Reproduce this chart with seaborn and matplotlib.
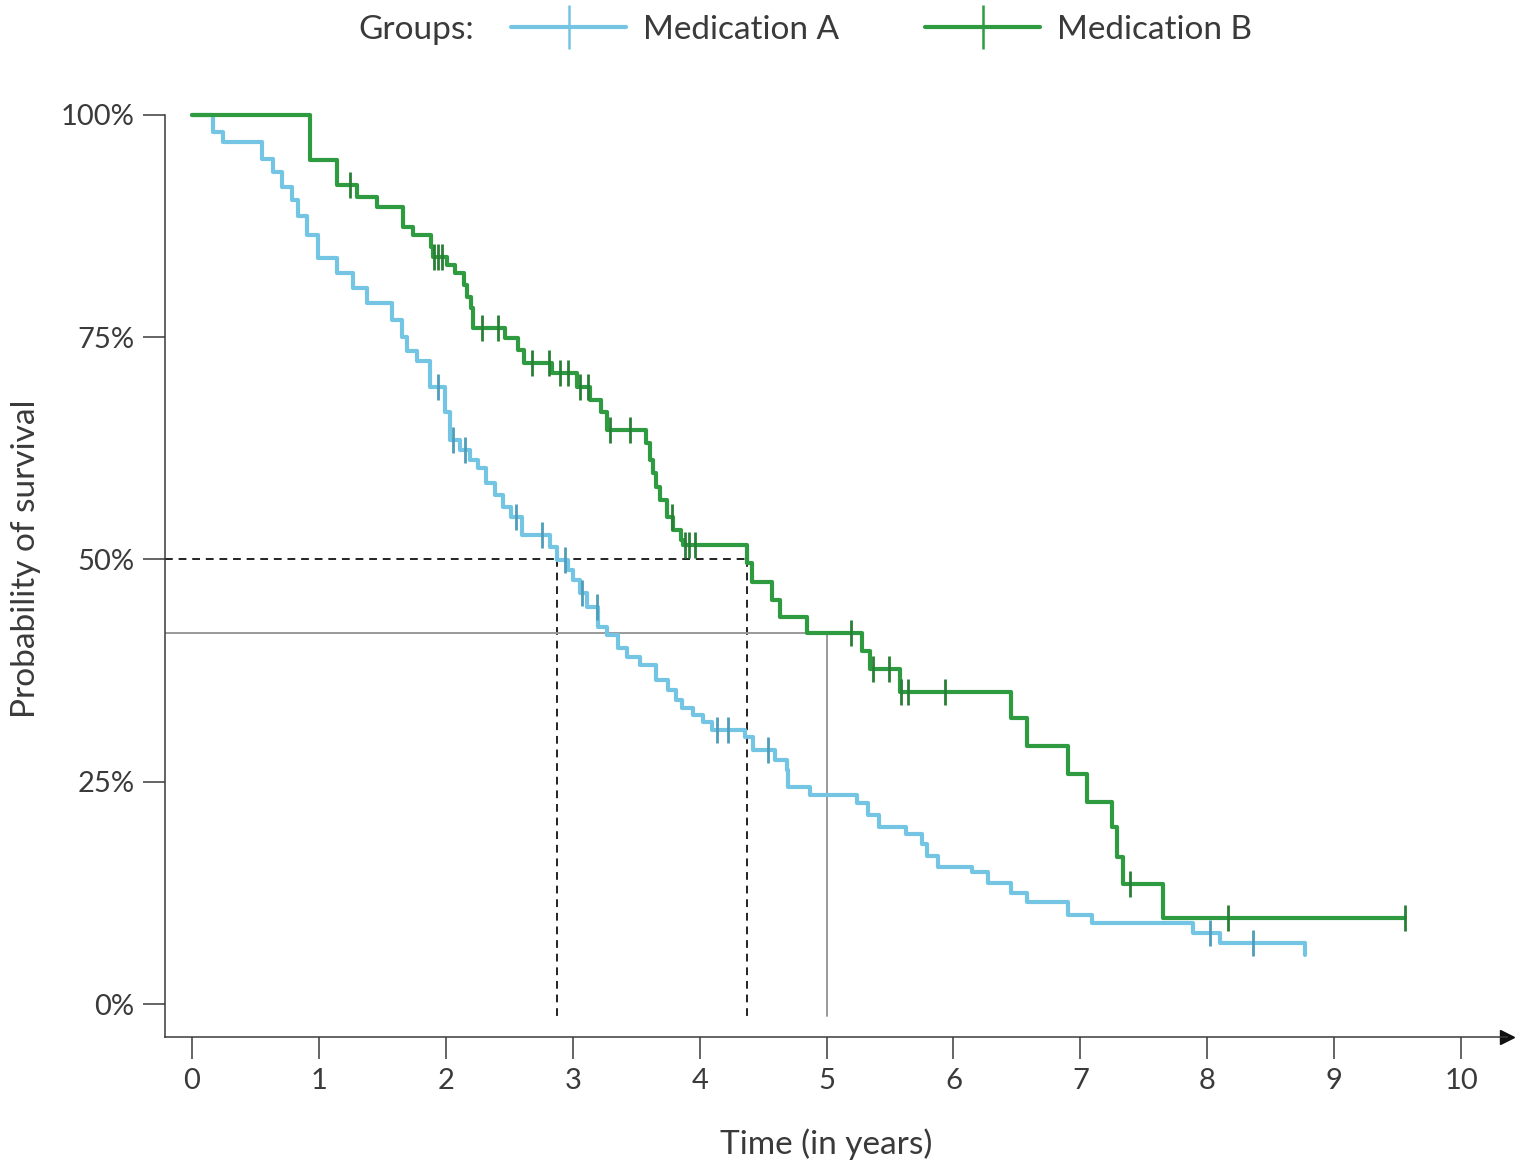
import numpy as np
import pandas as pd
import matplotlib
matplotlib.use("Agg")
import matplotlib.pyplot as plt
from matplotlib.lines import Line2D
import seaborn as sns

# --- data (time in years, survival in %) ---
# Medication A: event times and survival after each event
a_times = [0.0, 0.165, 0.244, 0.552, 0.638, 0.709, 0.788, 0.835, 0.906, 0.993,
           1.143, 1.269, 1.379, 1.576, 1.655, 1.694, 1.773, 1.875, 1.994, 2.03,
           2.11, 2.19, 2.25, 2.32, 2.39, 2.45, 2.51, 2.60, 2.82, 2.88,
           2.96, 3.00, 3.06, 3.11, 3.20, 3.27, 3.36, 3.43, 3.53, 3.66,
           3.75, 3.81, 3.86, 3.95, 4.03, 4.10, 4.36, 4.42, 4.59, 4.69,
           4.70, 4.87, 5.24, 5.33, 5.41, 5.63, 5.75, 5.79, 5.88, 6.15,
           6.27, 6.45, 6.58, 6.90, 7.09, 7.89, 8.10, 8.77]
a_surv = [100.0, 98.1, 97.0, 95.0, 93.6, 91.9, 90.4, 88.6, 86.5, 83.9,
          82.2, 80.5, 78.9, 76.9, 75.0, 73.4, 72.3, 69.4, 66.6, 63.4,
          62.3, 61.2, 60.3, 58.6, 57.3, 55.9, 54.8, 52.8, 51.4, 49.9,
          48.8, 47.7, 46.2, 44.7, 42.4, 41.5, 40.0, 39.0, 38.1, 36.4,
          35.3, 34.2, 33.3, 32.5, 31.7, 30.8, 30.0, 28.6, 27.4, 26.3,
          24.4, 23.5, 22.6, 21.3, 19.9, 19.1, 18.0, 16.7, 15.4, 14.8,
          13.6, 12.5, 11.5, 10.0, 9.1, 8.0, 6.9, 5.5]
a_censor = [1.94, 2.06, 2.15, 2.55, 2.76, 2.94, 3.07, 3.19, 4.14, 4.22, 4.54, 8.02, 8.36]

# Medication B
b_times = [0.0, 0.93, 1.14, 1.30, 1.46, 1.66, 1.74, 1.88, 1.90, 2.01,
           2.07, 2.14, 2.17, 2.20, 2.215, 2.47, 2.57, 2.62, 2.84, 3.03,
           3.14, 3.22, 3.27, 3.58, 3.61, 3.63, 3.66, 3.69, 3.74, 3.79,
           3.85, 3.87, 4.37, 4.41, 4.57, 4.63, 4.85, 5.28, 5.34, 5.58,
           6.45, 6.58, 6.90, 7.05, 7.25, 7.29, 7.34, 7.65, 9.56]
b_surv = [100.0, 94.9, 92.1, 90.8, 89.7, 87.4, 86.5, 85.2, 84.0, 83.1,
          82.2, 80.9, 79.5, 78.3, 76.0, 74.9, 73.6, 72.1, 71.0, 69.4,
          67.9, 66.6, 64.6, 63.1, 61.2, 59.7, 58.2, 56.7, 54.8, 53.3,
          52.2, 51.6, 49.6, 47.5, 45.4, 43.5, 41.7, 39.7, 37.7, 35.1,
          32.2, 29.0, 25.9, 22.7, 19.9, 16.5, 13.5, 9.7, 9.7]
b_censor = [1.245, 1.91, 1.94, 1.97, 2.285, 2.41, 2.68, 2.81, 2.90, 2.96,
            3.06, 3.12, 3.29, 3.45, 3.78, 3.885, 3.92, 3.96, 5.19, 5.37,
            5.49, 5.59, 5.64, 5.93, 7.39, 8.16, 9.56]

groups = ["Medication A", "Medication B"]
line_colors = ["#74C5E4", "#2F9B40"]
mark_colors = ["#4F9DBA", "#287F36"]
x_ticks = list(range(0, 11))
y_ticks = [0, 25, 50, 75, 100]
y_ticklabels = ["0%", "25%", "50%", "75%", "100%"]
landmark = 5


def step_value(times, surv, t):
    idx = np.searchsorted(times, t, side="right") - 1
    return surv[max(idx, 0)]


sns.set_style("ticks")
plt.rcParams["font.family"] = ["Lato", "DejaVu Sans"]
text_color = "#3a3a3a"

fig = plt.figure(figsize=(15.2, 11.67), dpi=100)
ax = fig.add_axes([165 / 1520, 130 / 1167, 1342 / 1520, (1037 - 97.2) / 1167])

curves = [(a_times, a_surv, a_censor), (b_times, b_surv, b_censor)]
for (times, surv, cens), name, lc, mc in zip(curves, groups, line_colors, mark_colors):
    df = pd.DataFrame({"time": times, "surv": surv})
    sns.lineplot(data=df, x="time", y="surv", ax=ax, color=lc, lw=3.0,
                 drawstyle="steps-post", estimator=None, sort=False,
                 legend=False, clip_on=False, zorder=3)
    cdf = pd.DataFrame({"time": cens,
                        "surv": [step_value(np.array(times), surv, c) for c in cens]})
    sns.scatterplot(data=cdf, x="time", y="surv", ax=ax, color=mc, marker="|",
                    s=330, linewidth=2.0, legend=False, zorder=4, clip_on=False)

# median survival guides (dashed) and landmark at 5 years (grey)
x_left = -0.2128
y_floor = -1.35
for times, surv in [(a_times, a_surv), (b_times, b_surv)]:
    med = times[next(i for i, s in enumerate(surv) if s <= 50)]
    ax.plot([med, med], [50, y_floor], color="#222222", lw=1.4, ls=(0, (4, 3)), zorder=2)
b_med = b_times[next(i for i, s in enumerate(b_surv) if s <= 50)]
ax.plot([x_left, b_med], [50, 50], color="#222222", lw=1.4, ls=(0, (4, 3)), zorder=2)
s5 = step_value(np.array(b_times), b_surv, landmark)
ax.plot([x_left, landmark, landmark], [s5, s5, y_floor], color="#9a9a9a", lw=1.4, zorder=2)

ax.set_xlim(x_left, 10.362)
ax.set_ylim(-3.71, 102)
ax.set_xticks(x_ticks)
ax.set_yticks(y_ticks)
ax.set_yticklabels(y_ticklabels)
ax.tick_params(axis="both", length=16, width=1.1, color=text_color,
               labelsize=21, labelcolor=text_color, pad=6)
for s in ["top", "right"]:
    ax.spines[s].set_visible(False)
for s in ["left", "bottom"]:
    ax.spines[s].set_color(text_color)
    ax.spines[s].set_linewidth(1.1)
ax.spines["left"].set_bounds(-3.71, 100)
ax.plot(1, 0, ">", color="#111111", markersize=10, transform=ax.transAxes, clip_on=False)

ax.set_xlabel("Time (in years)", fontsize=24, color=text_color)
ax.set_ylabel("Probability of survival", fontsize=24, color=text_color)
ax.xaxis.set_label_coords(0.4925, -0.097)
ax.yaxis.set_label_coords(-0.0925, 0.5086)

# legend row at the top
fig.text(358 / 1520, 1 - 30 / 1167, "Groups:", fontsize=24, color=text_color, va="center", ha="left")
handles = [Line2D([], [], color=lc, lw=3.0, marker="|", markersize=31, markeredgewidth=1.8,
                  markeredgecolor=lc) for lc in line_colors]
fig.legend(handles, groups, loc="center left", bbox_to_anchor=(511 / 1520, 1 - 30 / 1167),
           ncol=2, frameon=False, fontsize=24, handlelength=3.45, handletextpad=0.5,
           columnspacing=2.6, labelcolor=text_color, borderaxespad=0, borderpad=0)

fig.savefig("out.png", dpi=100)
